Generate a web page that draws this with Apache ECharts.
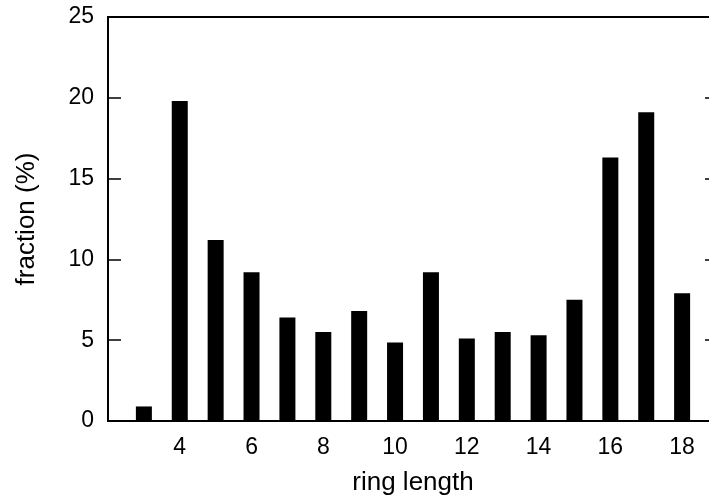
<!DOCTYPE html>
<html>
<head>
<meta charset="utf-8">
<script src="https://cdn.jsdelivr.net/npm/echarts@6/dist/echarts.min.js"></script>
<style>
  html, body { margin: 0; padding: 0; background: #fff; overflow: hidden; }
  /* the frame's right edge sits just past the visible area */
  #chart { width: 730px; height: 501px; }
</style>
</head>
<body>
<div id="chart"></div>
<script>
// Ring length distribution
const ringLengths = [3, 4, 5, 6, 7, 8, 9, 10, 11, 12, 13, 14, 15, 16, 17, 18];
const fractions = [0.9, 19.8, 11.2, 9.2, 6.4, 5.5, 6.8, 4.85, 9.2, 5.1, 5.5, 5.3, 7.5, 16.3, 19.1, 7.9];
const yTicks = [0, 5, 10, 15, 20, 25];
const xTickLabels = [4, 6, 8, 10, 12, 14, 16, 18];

const font = '"Liberation Sans", Arial, Helvetica, sans-serif';
const chart = echarts.init(document.getElementById('chart'), null, { renderer: 'canvas' });

chart.setOption({
  animation: false,
  backgroundColor: '#fff',
  grid: {
    left: 108, top: 17, width: 610, height: 406,
    show: true, borderColor: '#000', borderWidth: 2, backgroundColor: 'transparent'
  },
  xAxis: {
    type: 'value', min: 2, max: 19, interval: 2,
    name: 'ring length', nameLocation: 'middle', nameGap: 49,
    nameTextStyle: { fontFamily: font, fontSize: 26, color: '#000' },
    axisLine: { show: true, lineStyle: { color: '#000', width: 2 } },
    axisTick: { show: false },
    splitLine: { show: false },
    axisLabel: {
      fontFamily: font, fontSize: 23, color: '#000', margin: 15,
      showMaxLabel: false,
      formatter: v => xTickLabels.indexOf(v) >= 0 ? String(v) : ''
    }
  },
  yAxis: [{
    type: 'value', min: yTicks[0], max: yTicks[yTicks.length - 1], interval: 5,
    name: 'fraction (%)', nameLocation: 'middle', nameGap: 68,
    nameTextStyle: { fontFamily: font, fontSize: 26, color: '#000' },
    axisLine: { show: true, lineStyle: { color: '#000', width: 2 } },
    axisTick: { show: true, inside: true, length: 13, lineStyle: { color: '#000', width: 1.5 } },
    splitLine: { show: false },
    axisLabel: { fontFamily: font, fontSize: 23, color: '#000', margin: 14 }
  }, {
    type: 'value', min: 0, max: 25, interval: 5, position: 'right',
    axisLine: { show: true, lineStyle: { color: '#000', width: 2 } },
    axisTick: { show: true, inside: true, length: 13, lineStyle: { color: '#000', width: 1.5 } },
    splitLine: { show: false },
    axisLabel: { show: false }
  }],
  series: [{
    type: 'bar',
    barWidth: 16,
    itemStyle: { color: '#000' },
    data: ringLengths.map((r, i) => [r, fractions[i]])
  }]
});
</script>
</body>
</html>
